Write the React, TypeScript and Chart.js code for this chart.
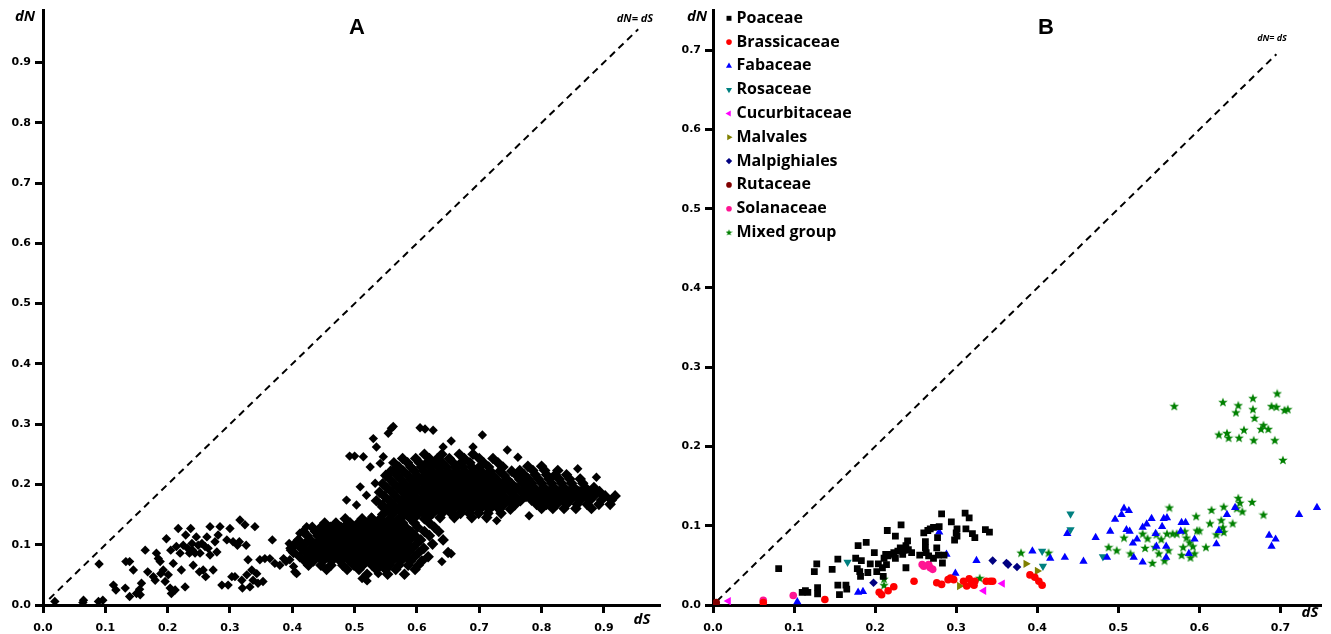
import React, { useEffect, useRef } from 'react';
import { Chart, registerables } from 'chart.js';
import { drawPoint } from 'chart.js/helpers';

Chart.register(...registerables);

// ---------- tick labels ----------
const ticksA = [0, 0.1, 0.2, 0.3, 0.4, 0.5, 0.6, 0.7, 0.8, 0.9];
const ticksB = [0, 0.1, 0.2, 0.3, 0.4, 0.5, 0.6, 0.7];

// ---------- panel A data (dS, dN) ----------
const aSparse: [number, number][] = [
  [0.019,0.006],[0.065,0.008],[0.064,0.004],[0.089,0.006],[0.096,0.008],[0.090,0.068],[0.113,0.033],[0.117,0.025],
  [0.132,0.028],[0.139,0.014],[0.133,0.072],[0.139,0.072],[0.145,0.058],[0.150,0.019],[0.156,0.017],[0.158,0.036],
  [0.155,0.026],[0.164,0.091],[0.168,0.055],[0.177,0.047],[0.180,0.041],[0.182,0.086],[0.185,0.077],[0.188,0.072],
  [0.189,0.052],[0.193,0.058],[0.196,0.039],[0.198,0.110],[0.201,0.050],[0.204,0.028],[0.205,0.091],[0.206,0.019],
  [0.209,0.069],[0.212,0.025],[0.214,0.097],[0.217,0.127],[0.220,0.086],[0.222,0.058],[0.225,0.099],[0.228,0.030],
  [0.229,0.116],[0.232,0.094],[0.235,0.086],[0.237,0.127],[0.239,0.102],[0.240,0.091],[0.241,0.066],[0.244,0.086],
  [0.246,0.113],[0.249,0.099],[0.251,0.055],[0.252,0.086],[0.255,0.102],[0.257,0.058],[0.260,0.097],[0.261,0.047],
  [0.263,0.113],[0.265,0.094],[0.268,0.130],[0.268,0.083],[0.273,0.058],[0.276,0.105],[0.279,0.088],[0.281,0.116],
  [0.284,0.130],[0.287,0.033],[0.295,0.108],[0.297,0.033],[0.300,0.127],[0.303,0.047],[0.305,0.105],[0.308,0.047],
  [0.312,0.099],[0.315,0.105],[0.316,0.141],[0.319,0.041],[0.320,0.028],[0.324,0.133],[0.326,0.099],[0.327,0.050],
  [0.329,0.075],[0.332,0.030],[0.335,0.058],[0.337,0.041],[0.340,0.130],[0.343,0.052],[0.345,0.036],[0.348,0.075],
  [0.353,0.039],[0.356,0.077],[0.364,0.077],[0.368,0.108],[0.372,0.069],[0.380,0.066],[0.386,0.077],[0.390,0.072],
  [0.395,0.102],[0.397,0.091],[0.396,0.075],[0.402,0.064],[0.404,0.055],[0.407,0.052],[0.412,0.119],[0.423,0.130],
  [0.442,0.122],[0.455,0.113],[0.474,0.122],[0.487,0.135],[0.487,0.174],[0.492,0.247],[0.500,0.247],[0.503,0.166],
  [0.509,0.196],[0.514,0.246],[0.519,0.182],[0.525,0.229],[0.527,0.146],[0.530,0.276],[0.533,0.202],[0.535,0.262],
  [0.538,0.052],[0.541,0.235],[0.543,0.163],[0.546,0.246],[0.549,0.058],[0.551,0.213],[0.554,0.285],[0.559,0.293],
  [0.562,0.296],[0.562,0.224],[0.605,0.294],[0.613,0.292],[0.626,0.290],[0.655,0.272],[0.705,0.282],[0.642,0.262],
  [0.690,0.262],[0.745,0.257],[0.762,0.245],[0.858,0.226],[0.888,0.212],[0.780,0.148],[0.728,0.140],[0.640,0.072],
  [0.655,0.085],[0.520,0.040],[0.512,0.044],
];

// rows: [dN, dS values]
const aLowerBlob: [number, number[]][] = [
  [0.150, [0.545,0.560,0.583,0.601]],
  [0.143, [0.485,0.512,0.528,0.541,0.556,0.571,0.590,0.612]],
  [0.136, [0.452,0.470,0.493,0.506,0.519,0.534,0.548,0.563,0.577,0.596,0.620]],
  [0.129, [0.432,0.446,0.461,0.478,0.489,0.501,0.514,0.527,0.540,0.553,0.568,0.582,0.601,0.628]],
  [0.122, [0.418,0.437,0.455,0.468,0.483,0.495,0.508,0.521,0.533,0.547,0.560,0.574,0.590,0.612,0.635]],
  [0.115, [0.424,0.441,0.450,0.462,0.474,0.488,0.502,0.515,0.528,0.541,0.554,0.567,0.581,0.597,0.620]],
  [0.108, [0.410,0.429,0.445,0.457,0.469,0.481,0.495,0.509,0.522,0.535,0.548,0.561,0.575,0.588,0.606,0.642]],
  [0.101, [0.404,0.420,0.436,0.451,0.463,0.476,0.490,0.503,0.516,0.529,0.542,0.556,0.569,0.583,0.599,0.625]],
  [0.094, [0.398,0.414,0.430,0.444,0.457,0.470,0.484,0.497,0.510,0.523,0.537,0.550,0.563,0.577,0.592,0.611]],
  [0.087, [0.402,0.422,0.437,0.450,0.463,0.477,0.491,0.505,0.518,0.531,0.544,0.558,0.572,0.586,0.603,0.650]],
  [0.080, [0.412,0.428,0.443,0.456,0.470,0.484,0.498,0.512,0.525,0.538,0.552,0.566,0.580,0.596,0.618]],
  [0.073, [0.420,0.434,0.449,0.463,0.477,0.492,0.506,0.519,0.533,0.547,0.560,0.574,0.590,0.608]],
  [0.066, [0.426,0.446,0.462,0.481,0.499,0.513,0.528,0.541,0.556,0.571,0.586,0.602]],
  [0.059, [0.455,0.488,0.507,0.535,0.550,0.566,0.597]],
  [0.051, [0.520,0.553,0.580]],
];

const aUpperBlob: [number, number[]][] = [
  [0.250, [0.612,0.640,0.668,0.690]],
  [0.243, [0.577,0.598,0.620,0.633,0.652,0.676,0.700,0.722]],
  [0.236, [0.563,0.585,0.604,0.616,0.628,0.641,0.658,0.671,0.685,0.707,0.730]],
  [0.229, [0.571,0.590,0.607,0.621,0.634,0.647,0.661,0.674,0.688,0.700,0.715,0.738]],
  [0.222, [0.558,0.578,0.596,0.611,0.624,0.637,0.650,0.664,0.677,0.690,0.703,0.718,0.733,0.752]],
  [0.215, [0.550,0.568,0.585,0.600,0.614,0.628,0.641,0.655,0.668,0.682,0.695,0.709,0.722,0.740,0.760]],
  [0.208, [0.557,0.574,0.590,0.605,0.619,0.633,0.646,0.660,0.673,0.687,0.700,0.714,0.728,0.745,0.765]],
  [0.201, [0.545,0.563,0.580,0.596,0.611,0.625,0.638,0.652,0.666,0.679,0.693,0.706,0.720,0.735,0.752,0.770]],
  [0.194, [0.552,0.570,0.586,0.601,0.616,0.630,0.644,0.657,0.671,0.685,0.698,0.712,0.726,0.742,0.760,0.776]],
  [0.187, [0.540,0.560,0.577,0.592,0.607,0.621,0.635,0.649,0.663,0.676,0.690,0.704,0.718,0.733,0.750,0.768]],
  [0.180, [0.548,0.566,0.582,0.597,0.612,0.626,0.640,0.654,0.668,0.682,0.696,0.710,0.724,0.740,0.758,0.775]],
  [0.173, [0.535,0.556,0.573,0.588,0.603,0.618,0.632,0.646,0.660,0.674,0.688,0.702,0.716,0.731,0.748,0.766]],
  [0.166, [0.545,0.563,0.579,0.594,0.609,0.624,0.638,0.652,0.666,0.680,0.694,0.708,0.723,0.739,0.757]],
  [0.159, [0.553,0.571,0.587,0.602,0.616,0.631,0.645,0.659,0.673,0.687,0.701,0.716,0.732,0.750]],
  [0.152, [0.562,0.580,0.596,0.611,0.625,0.640,0.655,0.670,0.684,0.699,0.714,0.735]],
  [0.145, [0.575,0.596,0.618,0.637,0.660,0.688,0.712]],
];

const aRightBlob: [number, number[]][] = [
  [0.230, [0.778,0.800]],
  [0.223, [0.765,0.786,0.805,0.826]],
  [0.216, [0.772,0.790,0.808,0.822,0.840]],
  [0.209, [0.779,0.795,0.812,0.828,0.845,0.862]],
  [0.202, [0.784,0.800,0.816,0.832,0.848,0.866]],
  [0.195, [0.788,0.804,0.820,0.836,0.852,0.870,0.884]],
  [0.188, [0.782,0.797,0.812,0.828,0.844,0.860,0.876,0.893]],
  [0.181, [0.790,0.805,0.820,0.836,0.852,0.868,0.884,0.902,0.918]],
  [0.174, [0.784,0.800,0.815,0.830,0.846,0.862,0.878,0.896,0.912]],
  [0.167, [0.792,0.808,0.824,0.840,0.857,0.873,0.892,0.910]],
  [0.160, [0.800,0.818,0.836,0.855,0.880]],
];

const diagA: [number, number][] = [[0.01, 0.01], [0.955, 0.955]];
const diagB: [number, number][] = [[0.005, 0.005], [0.695, 0.695]];

// ---------- panel B data (dS, dN) ----------
const poaceae: [number, number][] = [
  [0.081,0.046],[0.114,0.018],[0.110,0.016],[0.117,0.016],[0.129,0.022],[0.129,0.014],[0.128,0.052],[0.125,0.042],
  [0.147,0.045],[0.154,0.058],[0.154,0.025],[0.156,0.013],[0.164,0.025],[0.165,0.020],[0.176,0.059],[0.179,0.075],
  [0.189,0.079],[0.183,0.056],[0.178,0.046],[0.181,0.042],[0.182,0.036],[0.191,0.041],[0.194,0.052],[0.199,0.066],
  [0.202,0.042],[0.204,0.052],[0.210,0.036],[0.209,0.047],[0.211,0.059],[0.213,0.064],[0.215,0.094],[0.214,0.051],
  [0.216,0.062],[0.221,0.064],[0.223,0.066],[0.225,0.087],[0.225,0.059],[0.228,0.068],[0.231,0.072],[0.232,0.101],
  [0.234,0.064],[0.236,0.069],[0.238,0.075],[0.240,0.081],[0.241,0.070],[0.238,0.047],[0.245,0.066],[0.255,0.063],
  [0.260,0.091],[0.262,0.080],[0.262,0.072],[0.263,0.066],[0.265,0.094],[0.268,0.096],[0.272,0.098],[0.266,0.062],
  [0.272,0.059],[0.276,0.072],[0.277,0.085],[0.279,0.099],[0.278,0.063],[0.282,0.115],[0.283,0.053],[0.285,0.063],
  [0.294,0.105],[0.298,0.082],[0.300,0.091],[0.301,0.096],[0.301,0.087],[0.311,0.116],[0.312,0.096],[0.316,0.110],
  [0.320,0.090],[0.323,0.085],[0.336,0.095],[0.341,0.092],
];
const brassicaceae: [number, number][] = [
  [0.062,0.003],[0.138,0.007],[0.205,0.016],[0.208,0.013],[0.216,0.018],[0.223,0.023],[0.248,0.030],[0.276,0.028],
  [0.282,0.026],[0.290,0.032],[0.293,0.034],[0.297,0.032],[0.309,0.030],[0.313,0.024],[0.316,0.033],[0.319,0.027],
  [0.322,0.025],[0.323,0.030],[0.337,0.030],[0.342,0.030],[0.345,0.030],[0.391,0.038],[0.397,0.035],[0.402,0.030],
  [0.406,0.025],
];
const fabaceae: [number, number][] = [
  [0.104,0.004],[0.179,0.016],[0.185,0.017],[0.279,0.092],[0.288,0.064],[0.299,0.040],[0.325,0.056],[0.394,0.068],
  [0.416,0.059],[0.434,0.060],[0.437,0.090],[0.457,0.055],[0.472,0.085],[0.486,0.060],[0.490,0.093],[0.496,0.108],
  [0.504,0.114],[0.507,0.122],[0.513,0.119],[0.510,0.095],[0.514,0.093],[0.519,0.060],[0.518,0.078],[0.523,0.083],
  [0.530,0.054],[0.530,0.098],[0.535,0.102],[0.541,0.109],[0.546,0.090],[0.547,0.074],[0.554,0.099],[0.556,0.109],
  [0.560,0.110],[0.559,0.074],[0.559,0.060],[0.577,0.093],[0.578,0.104],[0.583,0.104],[0.587,0.065],[0.594,0.083],
  [0.621,0.077],[0.624,0.094],[0.634,0.114],[0.644,0.123],[0.686,0.088],[0.689,0.074],[0.694,0.083],[0.723,0.114],
  [0.745,0.123],
];
const rosaceae: [number, number][] = [
  [0.166,0.054],[0.441,0.115],[0.441,0.095],[0.406,0.068],[0.407,0.049],[0.481,0.061],
];
const cucurbitaceae: [number, number][] = [[0.019,0.005],[0.334,0.018],[0.357,0.027]];
const malvales: [number, number][] = [[0.304,0.024],[0.386,0.052],[0.400,0.043]];
const malpighiales: [number, number][] = [[0.198,0.028],[0.345,0.056],[0.362,0.053],[0.364,0.051],[0.375,0.048]];
const rutaceae: [number, number][] = [[0.004,0.003]];
const solanaceae: [number, number][] = [
  [0.062,0.006],[0.099,0.012],[0.258,0.051],[0.260,0.049],[0.266,0.051],[0.268,0.047],[0.271,0.045],
];
const mixedGroup: [number, number][] = [
  [0.211,0.033],[0.211,0.025],[0.329,0.034],[0.380,0.066],[0.414,0.066],[0.488,0.073],[0.498,0.069],[0.507,0.085],
  [0.515,0.065],[0.530,0.090],[0.536,0.084],[0.533,0.072],[0.542,0.053],[0.547,0.089],[0.545,0.073],[0.550,0.065],
  [0.553,0.083],[0.557,0.056],[0.560,0.090],[0.562,0.069],[0.563,0.123],[0.567,0.090],[0.572,0.090],[0.578,0.063],
  [0.580,0.073],[0.582,0.093],[0.584,0.085],[0.588,0.079],[0.589,0.060],[0.592,0.074],[0.594,0.065],[0.596,0.112],
  [0.597,0.094],[0.600,0.094],[0.608,0.073],[0.613,0.103],[0.615,0.120],[0.621,0.089],[0.627,0.107],[0.629,0.098],
  [0.630,0.124],[0.630,0.092],[0.641,0.103],[0.646,0.122],[0.648,0.135],[0.650,0.129],[0.653,0.118],[0.665,0.130],
  [0.679,0.114],
  [0.569,0.251],[0.629,0.256],[0.645,0.243],[0.648,0.252],[0.666,0.261],[0.666,0.247],[0.668,0.236],[0.689,0.251],
  [0.695,0.250],[0.696,0.267],[0.705,0.246],[0.709,0.247],[0.624,0.215],[0.634,0.217],[0.636,0.211],[0.649,0.211],
  [0.655,0.221],[0.667,0.208],[0.676,0.222],[0.679,0.227],[0.685,0.222],[0.693,0.208],[0.703,0.183],
];

const groupNames = ['Poaceae','Brassicaceae','Fabaceae','Rosaceae','Cucurbitaceae','Malvales','Malpighiales','Rutaceae','Solanaceae','Mixed group'];
const groupData = [poaceae, brassicaceae, fabaceae, rosaceae, cucurbitaceae, malvales, malpighiales, rutaceae, solanaceae, mixedGroup];
const groupColors = ['#000000','#FF0000','#0000FF','#008080','#FF00FF','#808000','#000080','#800000','#FF1493','#008000'];

const pairs = (a: [number, number][]) => a.map(([x, y]) => ({ x, y }));
const rows = (r: [number, number[]][]) => r.flatMap(([y, xs]) => xs.map((x) => ({ x, y })));

function makeStar(size: number, color: string): HTMLCanvasElement {
  const c = document.createElement('canvas');
  c.width = size; c.height = size;
  const g = c.getContext('2d')!;
  const cx = size / 2, cy = size / 2 + size * 0.04;
  const ro = size / 2, ri = ro * 0.42;
  g.beginPath();
  for (let i = 0; i < 10; i++) {
    const r = i % 2 === 0 ? ro : ri;
    const a = -Math.PI / 2 + (i * Math.PI) / 5;
    const px = cx + r * Math.cos(a), py = cy + r * Math.sin(a);
    if (i === 0) g.moveTo(px, py); else g.lineTo(px, py);
  }
  g.closePath();
  g.fillStyle = color;
  g.fill();
  return c;
}

type TextItem = { text: string; x: number; y: number; font: string; align?: CanvasTextAlign };

function textPlugin(items: TextItem[]) {
  return {
    id: 'textLabels',
    afterDraw(chart: any) {
      const ctx = chart.ctx as CanvasRenderingContext2D;
      items.forEach((t) => {
        ctx.save();
        ctx.font = t.font;
        ctx.fillStyle = '#000';
        ctx.textAlign = t.align || 'center';
        ctx.textBaseline = 'middle';
        ctx.fillText(t.text, t.x, t.y);
        ctx.restore();
      });
    },
  };
}

const tickFont = { family: "'DejaVu Sans'", weight: 'bold' as const, size: 11 };

function scales(max: number, ymax: number, ticks: number[]) {
  const common = (t: number[]) => ({
    type: 'linear' as const,
    min: 0,
    afterBuildTicks: (axis: any) => { axis.ticks = t.map((v) => ({ value: v })); },
    grid: { display: true, drawOnChartArea: false, drawTicks: true, tickLength: 8, tickWidth: 3, tickColor: '#000', color: '#000' },
    border: { display: true, width: 3, color: '#000' },
  });
  return {
    x: {
      ...common(ticks), max,
      afterFit: (s: any) => { s.height = 29; },
      ticks: { autoSkip: false, maxRotation: 0, padding: 9, color: '#000', font: tickFont, callback: (v: any) => Number(v).toFixed(1) },
    },
    y: {
      ...common(ticks), max: ymax,
      afterFit: (s: any) => { s.width = 43; },
      ticks: { autoSkip: false, padding: 4, color: '#000', font: tickFont, callback: (v: any) => Number(v).toFixed(1) },
    },
  };
}

export default function App() {
  const refA = useRef<HTMLCanvasElement>(null);
  const refB = useRef<HTMLCanvasElement>(null);

  useEffect(() => {
    const starPt = makeStar(10, '#008000');
    const starLeg = makeStar(7, '#008000');
    const styles: any[] = ['rect', 'circle', 'triangle', 'triangle', 'triangle', 'triangle', 'rectRot', 'circle', 'circle', starPt];
    const legStyles: any[] = ['rect', 'circle', 'triangle', 'triangle', 'triangle', 'triangle', 'rectRot', 'circle', 'circle', starLeg];
    const rotations = [0, 0, 0, 180, 270, 90, 0, 0, 0, 0];
    const radii = [4.8, 3.8, 4.8, 4.8, 4.8, 4.8, 4.3, 3.8, 3.8, 5];
    const legRadii = [3.5, 2.8, 3.5, 3.5, 3.5, 3.5, 3.2, 2.8, 2.8, 3];

    const chartA = new Chart(refA.current!, {
      type: 'scatter',
      data: {
        datasets: [
          {
            label: 'pairs',
            data: pairs(aSparse),
            pointStyle: 'rectRot', pointRadius: 4.7, pointBorderWidth: 0,
            backgroundColor: '#000', borderColor: '#000',
          },
          {
            label: 'pairs (dense)',
            data: [...rows(aLowerBlob), ...rows(aUpperBlob), ...rows(aRightBlob)],
            pointStyle: 'rectRot', pointRadius: 5.8, pointBorderWidth: 0,
            backgroundColor: '#000', borderColor: '#000',
          },
          {
            type: 'line' as any,
            label: 'dN=dS',
            data: pairs(diagA),
            borderColor: '#000', borderWidth: 2, borderDash: [7, 5], pointRadius: 0, fill: false, showLine: true,
          } as any,
        ],
      },
      options: {
        responsive: false, animation: false, events: [],
        layout: { padding: { left: 0, top: 10, right: 10, bottom: 0 } },
        plugins: { legend: { display: false }, tooltip: { enabled: false } },
        scales: scales(0.99, 0.986, ticksA) as any,
      },
      plugins: [textPlugin([
        { text: 'A', x: 357, y: 28, font: "bold 22px 'Liberation Sans'" },
        { text: 'dN', x: 25, y: 17, font: "bold italic 15px 'Open Sans'" },
        { text: 'dS', x: 642, y: 620, font: "bold italic 15px 'Open Sans'" },
        { text: 'dN= dS', x: 635, y: 19, font: "bold italic 11px 'Open Sans'" },
      ])],
    });

    const legendPlugin = {
      id: 'groupLegend',
      afterDraw(chart: any) {
        const ctx = chart.ctx as CanvasRenderingContext2D;
        groupNames.forEach((name, i) => {
          const y = 18.3 + i * 23.8;
          ctx.save();
          ctx.fillStyle = groupColors[i];
          ctx.strokeStyle = groupColors[i];
          drawPoint(ctx, { pointStyle: legStyles[i], rotation: rotations[i], radius: legRadii[i], borderWidth: 0 } as any, 59, y);
          ctx.restore();
          ctx.save();
          ctx.font = "bold 16px 'Open Sans'";
          ctx.fillStyle = '#000';
          ctx.textAlign = 'left';
          ctx.textBaseline = 'middle';
          ctx.fillText(name, 66.5, y);
          ctx.restore();
        });
      },
    };

    const chartB = new Chart(refB.current!, {
      type: 'scatter',
      data: {
        datasets: [
          ...groupNames.map((name, i) => ({
            label: name,
            data: pairs(groupData[i]),
            pointStyle: styles[i], pointRotation: rotations[i], pointRadius: radii[i], pointBorderWidth: 0,
            backgroundColor: groupColors[i], borderColor: groupColors[i],
          })),
          {
            type: 'line' as any,
            label: 'dN=dS',
            data: pairs(diagB),
            borderColor: '#000', borderWidth: 2, borderDash: [7, 5], pointRadius: 0, fill: false, showLine: true,
          } as any,
        ],
      },
      options: {
        responsive: false, animation: false, events: [],
        layout: { padding: { left: 0, top: 7, right: 10, bottom: 0 } },
        plugins: { legend: { display: false }, tooltip: { enabled: false } },
        scales: scales(0.75, 0.75, ticksB) as any,
      },
      plugins: [legendPlugin, textPlugin([
        { text: 'B', x: 376, y: 28, font: "bold 22px 'Liberation Sans'" },
        { text: 'dN', x: 27, y: 17, font: "bold italic 15px 'Open Sans'" },
        { text: 'dS', x: 640, y: 613, font: "bold italic 15px 'Open Sans'" },
        { text: 'dN= dS', x: 602, y: 38, font: "bold italic 9px 'Open Sans'" },
      ])],
    });

    const fontsP = (document as any).fonts;
    if (fontsP && fontsP.load) {
      Promise.all([
        fontsP.load("bold italic 15px 'Open Sans'"),
        fontsP.load("bold 16px 'Open Sans'"),
        fontsP.load("bold 22px 'Liberation Sans'"),
        fontsP.load("bold 11px 'DejaVu Sans'"),
      ]).then(() => { chartA.update(); chartB.update(); }).catch(() => {});
    }

    return () => { chartA.destroy(); chartB.destroy(); };
  }, []);

  return (
    <div style={{ position: 'absolute', left: 0, top: 0, width: 1331, height: 634, background: '#fff', overflow: 'hidden' }}>
      <canvas ref={refA} width={670} height={634} style={{ position: 'absolute', left: 0, top: 0, width: 670, height: 634 }} />
      <canvas ref={refB} width={661} height={634} style={{ position: 'absolute', left: 670, top: 0, width: 661, height: 634 }} />
    </div>
  );
}
